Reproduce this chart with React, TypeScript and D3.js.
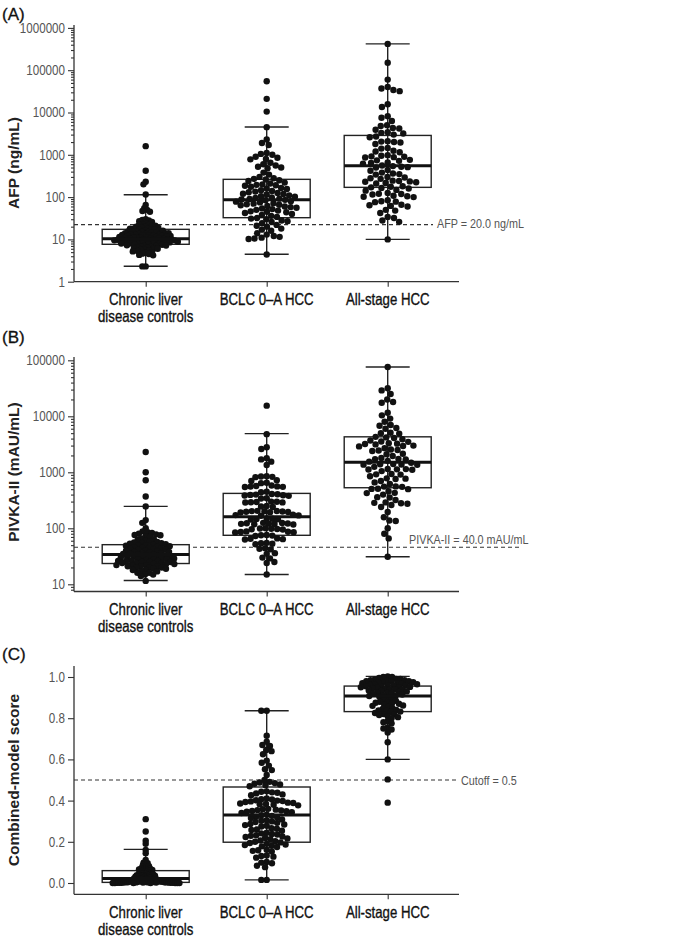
import { useEffect, useRef } from "react";
import * as d3 from "d3";

const categories = ["Chronic liver disease controls", "BCLC 0–A HCC", "All-stage HCC"];
const categoryLines = [["Chronic liver", "disease controls"], ["BCLC 0–A HCC"], ["All-stage HCC"]];

// AFP (ng/mL) per patient
const afpChronic = [1600, 420, 230, 200, 115, 65, 55, 50, 47, 45, 30, 29, 28, 27, 26,
  24, 23, 22, 22, 21, 21, 20, 20, 19, 19, 18, 18, 18,
  17.5, 17, 17, 16.5, 16, 16, 15.5, 15.5, 15, 15, 15, 14.5, 14.5, 14, 14, 14,
  13.5, 13.5, 13, 13, 13, 12.8, 12.5, 12.5, 12.2, 12, 12, 12, 11.8, 11.5, 11.5, 11.2, 11, 11, 11,
  10.8, 10.6, 10.5, 10.4, 10.2, 10, 10, 10, 10, 9.8, 9.8, 9.6, 9.5, 9.5, 9.4, 9.2, 9.2, 9, 9, 9,
  8.8, 8.8, 8.6, 8.5, 8.5, 8.3, 8.2, 8, 8, 8, 7.8, 7.8, 7.6, 7.5, 7.5, 7.3, 7.2, 7, 7,
  6.8, 6.6, 6.5, 6.4, 6.2, 6, 6, 5.8, 5.6, 5.5, 5.3, 5.2, 5, 4.8, 4.6, 4.5, 4.3, 4.2, 2.3, 2.3];
const afpBclc = [55000, 21000, 10500, 4500, 2300, 1900, 1700, 1100, 1050, 1000, 900, 850, 800, 780,
  650, 600, 560, 520, 500, 480, 380, 340, 300, 280, 270, 260, 250, 240, 220, 210, 200, 195, 190, 185,
  175, 165, 160, 155, 145, 140, 135, 130, 125, 120, 118, 115, 110, 105, 102, 98, 95, 92, 90, 88, 86,
  84, 80, 78, 75, 72, 70, 68, 66, 64, 62, 60, 58, 56, 54, 52, 50, 48, 46, 45, 44, 42, 40, 38, 36, 34,
  32, 31, 30, 28, 27, 26, 24, 22, 21, 20, 18, 17, 16, 14, 13, 12, 11.5, 11, 10.5, 10.2, 4.4];
const afpAll = [419000, 150000, 60000, 40000, 37000, 34000, 32000, 15700, 13500, 8200, 7500, 6300,
  5000, 4800, 4300, 4200, 3900, 3400, 3300, 3200, 3000, 2700, 2600, 2100, 2050, 2000, 1950, 1800,
  1450, 1400, 1250, 1200, 1150, 980, 950, 920, 900, 880, 860, 760, 740, 720, 660, 640, 620, 560, 540,
  520, 510, 500, 440, 420, 380, 360, 350, 340, 300, 290, 280, 270, 245, 240, 235, 230, 225, 215, 210,
  180, 175, 170, 165, 160, 148, 142, 125, 120, 118, 115, 108, 105, 102, 100, 84, 80, 78, 76, 66, 64,
  62, 60, 50, 48, 42, 34, 32, 28, 26, 10];

// PIVKA-II (mAU/mL) per patient
const pivkaChronic = [2300, 1000, 720, 370, 245, 140, 125, 100, 88, 85, 83, 80, 78, 76, 75, 72, 70,
  66, 64, 62, 60, 58, 57, 56, 55, 54, 53, 52, 51, 50, 50, 49, 48, 47, 46, 45, 45, 44, 43, 42, 42, 41,
  40, 40, 39, 38, 38, 37, 36, 36, 35, 35, 34, 34, 33, 33, 32, 32, 31, 31, 30, 30, 30, 29, 29, 28, 28,
  28, 27, 27, 26, 26, 26, 25, 25, 25, 24, 24, 24, 23, 23, 23, 22, 22, 22, 21, 21, 21, 20, 20, 20, 19,
  19, 18, 18, 17, 17, 16, 16, 15, 15, 14, 11.5];
const pivkaBclc = [15500, 4800, 2800, 2600, 1780, 1700, 1550, 1350, 850, 840, 830, 820, 720, 700, 650,
  640, 580, 570, 560, 555, 550, 545, 450, 440, 410, 405, 400, 395, 390, 385, 380, 345, 340, 300, 298,
  295, 292, 290, 288, 250, 245, 240, 205, 204, 203, 202, 200, 198, 196, 194, 192, 175, 172, 170, 168,
  150, 148, 146, 145, 144, 125, 124, 123, 122, 121, 120, 119, 118, 117, 100, 99, 98, 97, 96, 95, 88,
  87, 86, 85, 84, 76, 75, 74, 73, 66, 65, 64, 63, 55, 54, 53, 52, 44, 43, 42, 36, 35, 30, 29, 25, 24, 15];
const pivkaAll = [76000, 31600, 29000, 25000, 20000, 18000, 17500, 11600, 10400, 9100, 8000, 7000,
  6800, 6200, 6000, 5100, 5000, 4900, 4300, 4200, 4100, 3900, 3700, 3550, 3500, 3300, 3250, 3200,
  3150, 3000, 2950, 2900, 2700, 2550, 2500, 2450, 2400, 2150, 2100, 1950, 1800, 1740, 1720, 1700,
  1600, 1550, 1480, 1400, 1390, 1380, 1370, 1360, 1250, 1150, 1140, 1130, 1120, 1110, 1050, 930, 920,
  910, 850, 780, 770, 760, 700, 660, 620, 560, 555, 550, 510, 505, 500, 460, 430, 425, 400, 360, 355,
  320, 290, 285, 280, 275, 260, 240, 195, 158, 138, 135, 100, 80, 66, 31];

// Combined-model score per patient
const scoreChronic = [0.31, 0.25, 0.205, 0.19, 0.16, 0.145, 0.112, 0.1, 0.098, 0.096, 0.09, 0.088,
  0.085, 0.082, 0.08, 0.078, 0.075, 0.072, 0.07, 0.07, 0.068, 0.066, 0.065, 0.063, 0.062, 0.06, 0.058,
  0.056, 0.055, 0.053, 0.052, 0.05, 0.048, 0.047, 0.045, 0.044, 0.043, 0.042, 0.04, 0.039, 0.038,
  0.037, 0.036, 0.035, 0.034, 0.033, 0.032, 0.031, 0.03, 0.029, 0.028, 0.027, 0.026, 0.025, 0.024,
  0.023, 0.022, 0.021, 0.02, 0.019, 0.018, 0.017, 0.016, 0.015, 0.014, 0.013, 0.012, 0.011, 0.01,
  0.01, 0.009, 0.009, 0.008, 0.008, 0.007, 0.007, 0.006, 0.006, 0.005, 0.005, 0.004, 0.004, 0.004,
  0.003, 0.003, 0.003, 0.002, 0.002, 0.002, 0.002, 0.001, 0.001, 0.001, 0.001, 0.001, 0, 0, 0, 0, 0, 0, 0];
const scoreBclc = [0.836, 0.836, 0.715, 0.686, 0.67, 0.665, 0.646, 0.64, 0.625, 0.594, 0.584, 0.57,
  0.552, 0.548, 0.524, 0.5, 0.491, 0.488, 0.485, 0.482, 0.478, 0.474, 0.47, 0.445, 0.443, 0.44, 0.438,
  0.435, 0.43, 0.426, 0.41, 0.407, 0.405, 0.402, 0.4, 0.398, 0.396, 0.393, 0.39, 0.388, 0.386, 0.384,
  0.382, 0.38, 0.377, 0.36, 0.358, 0.356, 0.354, 0.352, 0.35, 0.348, 0.346, 0.344, 0.34, 0.332, 0.329,
  0.326, 0.322, 0.319, 0.315, 0.308, 0.305, 0.302, 0.299, 0.296, 0.292, 0.287, 0.284, 0.281, 0.278,
  0.274, 0.266, 0.263, 0.26, 0.257, 0.254, 0.244, 0.241, 0.238, 0.235, 0.232, 0.229, 0.226, 0.223,
  0.219, 0.216, 0.213, 0.206, 0.203, 0.2, 0.197, 0.194, 0.19, 0.187, 0.184, 0.181, 0.178, 0.175,
  0.162, 0.159, 0.156, 0.153, 0.134, 0.131, 0.128, 0.123, 0.102, 0.099, 0.096, 0.084, 0.077, 0.015, 0.015];
const scoreAll = [1.003, 1.0, 1.0, 0.995, 0.99, 0.99, 0.988, 0.985, 0.985, 0.982, 0.98, 0.98, 0.978,
  0.975, 0.975, 0.972, 0.97, 0.97, 0.968, 0.965, 0.965, 0.962, 0.96, 0.96, 0.958, 0.955, 0.955, 0.952,
  0.95, 0.95, 0.948, 0.945, 0.942, 0.94, 0.94, 0.938, 0.935, 0.932, 0.93, 0.928, 0.925, 0.922, 0.92,
  0.918, 0.915, 0.912, 0.91, 0.908, 0.905, 0.9, 0.895, 0.89, 0.885, 0.88, 0.878, 0.875, 0.872, 0.87,
  0.865, 0.862, 0.86, 0.855, 0.85, 0.845, 0.84, 0.838, 0.835, 0.832, 0.83, 0.825, 0.82, 0.818, 0.815,
  0.81, 0.805, 0.8, 0.785, 0.78, 0.775, 0.755, 0.75, 0.745, 0.73, 0.683, 0.6, 0.503, 0.39];

// box stats as drawn: [low whisker, Q1, median, Q3, high whisker]
const afpBoxes = [[2.31, 7.66, 10.4, 17.3, 114], [4.44, 32.6, 86, 263, 4540], [10, 170, 550, 2870, 419000]];
const pivkaBoxes = [[11.7, 23.5, 34, 51, 246], [15, 75, 160, 420, 4900], [31, 530, 1510, 4300, 76000]];
const scoreBoxes = [[0, 0.003, 0.022, 0.06, 0.163], [0.015, 0.198, 0.33, 0.466, 0.836], [0.6, 0.832, 0.908, 0.956, 1.003]];

const afpTicks = [1, 10, 100, 1000, 10000, 100000, 1000000];
const pivkaTicks = [10, 100, 1000, 10000, 100000];
const scoreTicks = [0, 0.2, 0.4, 0.6, 0.8, 1.0];

const W = 700;
const H = 937;
const axisX = 74;
const axisEnd = 459;
const K = 0.83; // horizontal squeeze, the figure uses a condensed face
const sans = "'Liberation Sans', Arial, Helvetica, sans-serif";

function swarm(vals: number[], y: (v: number) => number, r: number, maxHalf: number) {
  const pts = vals.map(v => ({ v, y: y(v), x: 0 })).sort((a, b) => a.y - b.y);
  for (let d = 2 * r; d >= 1; d -= 0.25) {
    const placed: { x: number; y: number }[] = [];
    let ok = true;
    for (const p of pts) {
      const near = placed.filter(q => Math.abs(q.y - p.y) < d);
      const cands = [0];
      near.forEach(q => {
        const h = Math.sqrt(d * d - (q.y - p.y) ** 2);
        cands.push(q.x + h, q.x - h);
      });
      cands.sort((a, b) => Math.abs(a) - Math.abs(b) || a - b);
      const x = cands.find(c => near.every(q => (c - q.x) ** 2 + (q.y - p.y) ** 2 >= d * d - 0.01));
      p.x = x ?? 0;
      placed.push(p);
      if (Math.abs(p.x) > maxHalf) { ok = false; break; }
    }
    if (ok) return pts;
  }
  return pts;
}

// narrow text placed at (x, y)
function narrowText(parent: d3.Selection<any, unknown, null, undefined>, x: number, y: number, s: string, k = K) {
  return parent.append("text").attr("transform", `translate(${x},${y}) scale(${k},1)`)
    .attr("font-family", sans).text(s);
}

const App = () => {
  const ref = useRef<SVGSVGElement | null>(null);

  useEffect(() => {
    if (!ref.current) return;
    const svg = d3.select(ref.current);
    svg.selectAll("*").remove();

    const x = d3.scalePoint<string>().domain(categories).range([145.7, 387.7]);

    const panels = [
      {
        tag: "(A)", tagY: 20, title: "AFP (ng/mL)", titleY: 163,
        y: d3.scaleLog().domain([1, 1000000]).range([281.7, 27.9]),
        top: 25, bottom: 281.7, ticks: afpTicks, log: true,
        groups: [afpChronic, afpBclc, afpAll], boxes: afpBoxes,
        cut: 22.3, cutEnd: 433, cutLabel: "AFP = 20.0 ng/mL", cutLx: 437, cutLy: 228,
      },
      {
        tag: "(B)", tagY: 343, title: "PIVKA-II (mAU/mL)", titleY: 472,
        y: d3.scaleLog().domain([10, 100000]).range([584.3, 360.3]),
        top: 357, bottom: 591.5, ticks: pivkaTicks, log: true,
        groups: [pivkaChronic, pivkaBclc, pivkaAll], boxes: pivkaBoxes,
        cut: 45.8, cutEnd: 519, cutLabel: "PIVKA-II = 40.0 mAU/mL", cutLx: 409, cutLy: 544,
      },
      {
        tag: "(C)", tagY: 660, title: "Combined-model score", titleY: 780,
        y: d3.scaleLinear().domain([0, 1]).range([883, 677]),
        top: 666, bottom: 894.3, ticks: scoreTicks, log: false,
        groups: [scoreChronic, scoreBclc, scoreAll], boxes: scoreBoxes,
        cut: 0.5, cutEnd: 458, cutLabel: "Cutoff = 0.5", cutLx: 461, cutLy: 784.5,
      },
    ];

    panels.forEach(p => {
      const g = svg.append("g");
      const y = p.y as (v: number) => number;

      g.append("text").attr("x", 2).attr("y", p.tagY).text(p.tag)
        .attr("font-family", sans).attr("font-size", 17).attr("fill", "#111")
        .attr("stroke", "#111").attr("stroke-width", 0.3);

      g.append("text")
        .attr("transform", `translate(19,${p.titleY}) rotate(-90)`)
        .attr("text-anchor", "middle").text(p.title)
        .attr("font-family", sans).attr("font-weight", "bold").attr("font-size", 15.5).attr("fill", "#222");

      // y axis
      const yAxis = g.append("g").attr("transform", `translate(${axisX},0)`);
      const fmt = p.log ? d3.format("d") : d3.format(".1f");
      yAxis.call(d3.axisLeft(p.y as any).tickValues(p.ticks).tickSize(6).tickPadding(3).tickFormat(fmt as any));
      if (p.log) {
        const lo = p.ticks[0];
        const minors: number[] = [];
        p.ticks.slice(0, -1).forEach(t => { for (let k = 2; k <= 9; k++) minors.push(t * k); });
        if (lo > 1) { for (let k = 8; k <= 9; k++) minors.push(lo * k / 10); }
        yAxis.append("g").call(d3.axisLeft(p.y as any).tickValues(minors.filter(m => y(m) <= p.bottom)).tickSize(3).tickFormat(() => ""));
      }
      yAxis.selectAll(".domain").remove();
      yAxis.selectAll("line").attr("stroke", "#333").attr("stroke-width", 1.1);
      yAxis.selectAll<SVGTextElement, unknown>("text").each(function () {
        const t = d3.select(this);
        const tx = +(t.attr("x") || 0);
        t.attr("x", tx / K).attr("transform", `scale(${K},1)`);
      }).attr("font-family", sans).attr("font-size", 14).attr("fill", "#555");
      yAxis.append("line").attr("x1", 0).attr("x2", 0).attr("y1", p.top).attr("y2", p.bottom)
        .attr("stroke", "#333").attr("stroke-width", 1.3);

      // x axis
      const xAxis = g.append("g").attr("transform", `translate(0,${p.bottom})`);
      xAxis.call(d3.axisBottom(x).tickSize(5).tickFormat(() => ""));
      xAxis.selectAll(".domain").remove();
      xAxis.selectAll("line").attr("stroke", "#333").attr("stroke-width", 1.1);
      xAxis.append("line").attr("x1", axisX).attr("x2", axisEnd).attr("stroke", "#333").attr("stroke-width", 1.3);
      categories.forEach((c, i) => {
        categoryLines[i].forEach((ln, j) => {
          narrowText(xAxis, x(c)!, 23.5 + j * 17, ln, 0.8)
            .attr("text-anchor", "middle").attr("font-size", 16.5).attr("fill", "#111")
            .attr("stroke", "#111").attr("stroke-width", 0.35);
        });
      });

      // cutoff line
      g.append("line").attr("x1", axisX).attr("x2", p.cutEnd).attr("y1", y(p.cut)).attr("y2", y(p.cut))
        .attr("stroke", "#333").attr("stroke-width", 1.1).attr("stroke-dasharray", "4,3");
      narrowText(g, p.cutLx, p.cutLy, p.cutLabel).attr("font-size", 13).attr("fill", "#555");

      // boxes
      const bw = 87, cw = 44;
      categories.forEach((c, i) => {
        const cx = x(c)!;
        const [lo, q1, , q3, hi] = p.boxes[i];
        const bg = g.append("g").attr("stroke", "#222").attr("fill", "none");
        bg.append("line").attr("x1", cx).attr("x2", cx).attr("y1", y(hi)).attr("y2", y(lo)).attr("stroke-width", 1.4);
        bg.append("line").attr("x1", cx - cw / 2).attr("x2", cx + cw / 2).attr("y1", y(hi)).attr("y2", y(hi)).attr("stroke-width", 1.4);
        bg.append("line").attr("x1", cx - cw / 2).attr("x2", cx + cw / 2).attr("y1", y(lo)).attr("y2", y(lo)).attr("stroke-width", 1.4);
        bg.append("rect").attr("x", cx - bw / 2).attr("width", bw).attr("y", y(q3)).attr("height", y(q1) - y(q3))
          .attr("fill", "white").attr("stroke-width", 1.4);
        bg.append("line").attr("x1", cx).attr("x2", cx).attr("y1", y(q3)).attr("y2", y(q1)).attr("stroke-width", 1.4);
      });

      // points
      const halves = [34, 32, 32];
      categories.forEach((c, i) => {
        const cx = x(c)!;
        const pts = swarm(p.groups[i], y, 3.2, halves[i]);
        g.append("g").selectAll("circle").data(pts).join("circle")
          .attr("cx", d => cx + d.x).attr("cy", d => d.y).attr("r", 3.2).attr("fill", "#111");
      });

      // medians on top
      categories.forEach((c, i) => {
        const cx = x(c)!;
        const med = p.boxes[i][2];
        g.append("line").attr("x1", cx - bw / 2).attr("x2", cx + bw / 2).attr("y1", y(med)).attr("y2", y(med))
          .attr("stroke", "#111").attr("stroke-width", 3);
      });
    });
  }, []);

  return <svg ref={ref} width={W} height={H} style={{ position: "absolute", left: 0, top: 0, background: "white" }} />;
};

export default App;
